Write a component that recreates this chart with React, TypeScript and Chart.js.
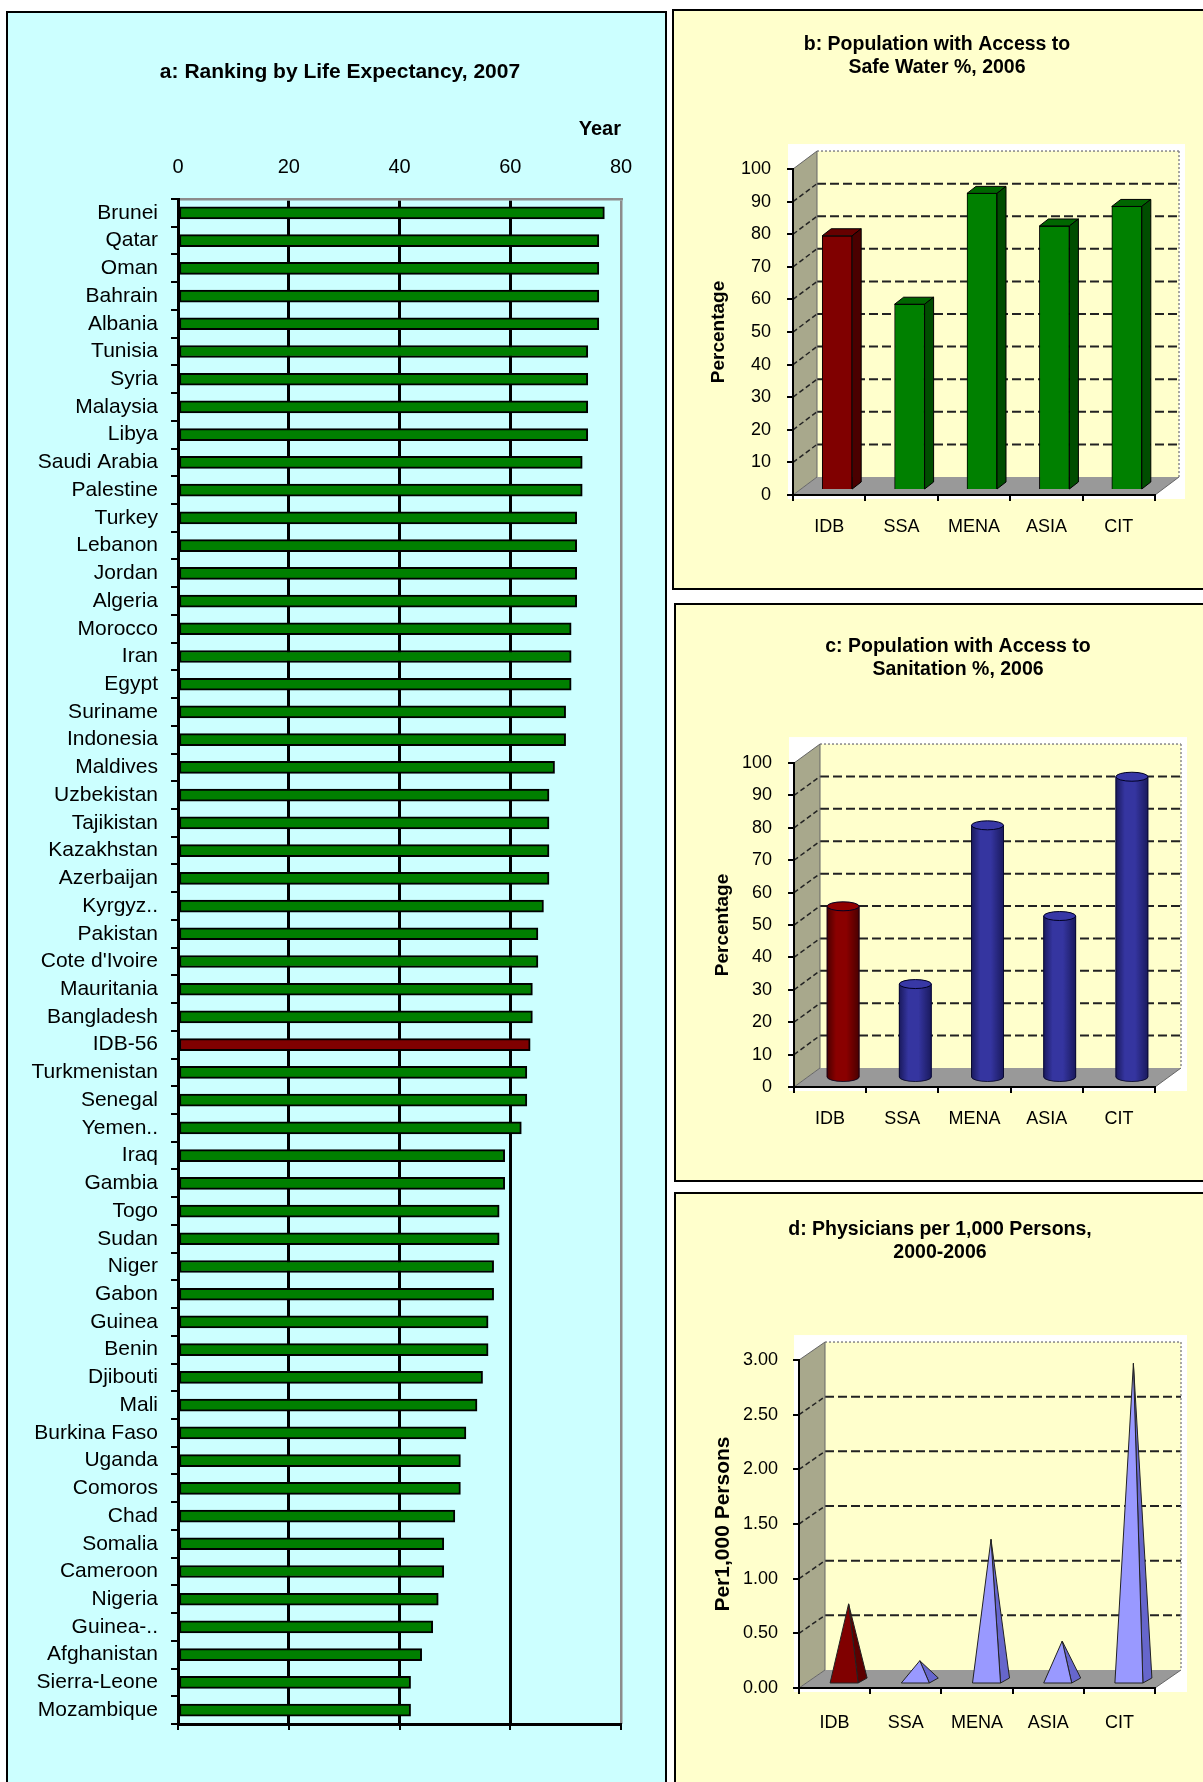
import React, { useEffect, useRef } from 'react';
import { Chart, registerables } from 'chart.js';

Chart.register(...registerables);

const FONT = "'Liberation Sans', Arial, Helvetica, sans-serif";
Chart.defaults.font.family = FONT;
Chart.defaults.color = '#000';

// ---------- Panel a: life expectancy ----------
const countries = [
  'Brunei', 'Qatar', 'Oman', 'Bahrain', 'Albania', 'Tunisia', 'Syria', 'Malaysia', 'Libya',
  'Saudi Arabia', 'Palestine', 'Turkey', 'Lebanon', 'Jordan', 'Algeria', 'Morocco', 'Iran',
  'Egypt', 'Suriname', 'Indonesia', 'Maldives', 'Uzbekistan', 'Tajikistan', 'Kazakhstan',
  'Azerbaijan', 'Kyrgyz..', 'Pakistan', "Cote d'Ivoire", 'Mauritania', 'Bangladesh', 'IDB-56',
  'Turkmenistan', 'Senegal', 'Yemen..', 'Iraq', 'Gambia', 'Togo', 'Sudan', 'Niger', 'Gabon',
  'Guinea', 'Benin', 'Djibouti', 'Mali', 'Burkina Faso', 'Uganda', 'Comoros', 'Chad', 'Somalia',
  'Cameroon', 'Nigeria', 'Guinea-..', 'Afghanistan', 'Sierra-Leone', 'Mozambique',
];
const lifeExpectancy = [
  77, 76, 76, 76, 76, 74, 74, 74, 74,
  73, 73, 72, 72, 72, 72, 71, 71,
  71, 70, 70, 68, 67, 67, 67,
  67, 66, 65, 65, 64, 64, 63.6,
  63, 63, 62, 59, 59, 58, 58, 57, 57,
  56, 56, 55, 54, 52, 51, 51, 50, 48,
  48, 47, 46, 44, 42, 42,
];
const lifeTicks = [0, 20, 40, 60, 80];

// ---------- Panels b, c, d ----------
const regions = ['IDB', 'SSA', 'MENA', 'ASIA', 'CIT'];
const safeWater = [78, 57, 91, 81, 87];
const sanitation = [53, 29, 78, 50, 93];
const physicians = [0.71, 0.19, 1.3, 0.37, 2.91];
const percentTicks = [0, 10, 20, 30, 40, 50, 60, 70, 80, 90, 100];
const physicianTicks = [0, 0.5, 1, 1.5, 2, 2.5, 3];

type Col = { front: string; side: string; top: string };
const RED_BOX: Col = { front: '#800000', side: '#4a0000', top: '#660000' };
const GREEN_BOX: Col = { front: '#008000', side: '#004d00', top: '#006600' };
const RED_CYL: Col = { front: '#8a0000', side: '#4a0000', top: '#900000' };
const BLUE_CYL: Col = { front: '#3535a0', side: '#1a1a5e', top: '#3838a6' };
const RED_PYR: Col = { front: '#800000', side: '#5c0000', top: '#800000' };
const LAV_PYR: Col = { front: '#9999FF', side: '#6666CC', top: '#9999FF' };

const poly = (ctx: CanvasRenderingContext2D, pts: number[][]) => {
  ctx.beginPath();
  ctx.moveTo(pts[0][0], pts[0][1]);
  for (let i = 1; i < pts.length; i++) ctx.lineTo(pts[i][0], pts[i][1]);
  ctx.closePath();
};
const seg = (ctx: CanvasRenderingContext2D, x1: number, y1: number, x2: number, y2: number) => {
  ctx.beginPath();
  ctx.moveTo(x1, y1);
  ctx.lineTo(x2, y2);
  ctx.stroke();
};
const cylGrad = (ctx: CanvasRenderingContext2D, cx: number, w: number, c: Col): any => {
  if (!isFinite(cx) || !isFinite(w)) return c.front;
  const g = ctx.createLinearGradient(cx - w / 2, 0, cx + w / 2, 0);
  g.addColorStop(0, c.side);
  g.addColorStop(0.28, c.front);
  g.addColorStop(0.6, c.front);
  g.addColorStop(1, c.side);
  return g;
};

// invisible right-hand axis used only to reserve space, so the title box stays wide
const spacerAxis = (w: number): any => ({
  type: 'linear',
  position: 'right',
  display: true,
  ticks: { display: false },
  grid: { display: false, drawTicks: false },
  border: { display: false },
  afterFit: (s: any) => {
    s.width = w;
  },
});

type P3 = {
  title: string[];
  yTitle: string;
  yTitleSize: number;
  yTitleOffset: number;
  data: number[];
  ticks: number[];
  fmt: (v: number) => string;
  kind: 'box' | 'cyl' | 'pyr';
  colors: Col[];
  barW: number;
  dx: number; dy: number; tx: number; ty: number; ddx: number; ddy: number;
  bottomPad: number;
  rightW: number;
  titlePad: { top: number; bottom: number };
  yWidth: number; yLabelPad: number; xHeight: number; xLabelPad: number;
};

function make3D(p: P3): any {
  const plugin = {
    id: 'walls3d',
    beforeDraw(chart: any) {
      const ctx: CanvasRenderingContext2D = chart.ctx;
      const { left: L, right: R, top: T, bottom: B } = chart.chartArea;
      const ys = chart.scales.y;
      const { dx, dy } = p;
      ctx.save();
      ctx.fillStyle = '#ffffff';
      ctx.fillRect(L - 5, T + dy - 7, R + dx + 6 - (L - 5), B + 4 - (T + dy - 7));
      ctx.fillStyle = '#FFFFCC';
      ctx.fillRect(L + dx, T + dy, R - L, B - T);
      ctx.fillStyle = '#A8A88C';
      poly(ctx, [[L, B], [L, T], [L + dx, T + dy], [L + dx, B + dy]]);
      ctx.fill();
      ctx.fillStyle = '#999999';
      poly(ctx, [[L, B], [R, B], [R + dx, B + dy], [L + dx, B + dy]]);
      ctx.fill();
      ys.ticks.forEach((t: any) => {
        const v = t.value;
        if (v <= ys.min || v >= ys.max) return;
        const y = ys.getPixelForValue(v);
        ctx.setLineDash([9, 4]);
        ctx.strokeStyle = '#222';
        ctx.lineWidth = 2;
        seg(ctx, L + dx, y + dy, R + dx, y + dy);
        ctx.setLineDash([5, 3]);
        ctx.lineWidth = 1.5;
        seg(ctx, L, y, L + dx, y + dy);
      });
      ctx.setLineDash([2, 2]);
      ctx.strokeStyle = '#888';
      ctx.lineWidth = 1.5;
      seg(ctx, L + dx, T + dy, R + dx, T + dy);
      seg(ctx, R + dx, T + dy, R + dx, B + dy);
      ctx.setLineDash([]);
      ctx.strokeStyle = '#666';
      ctx.lineWidth = 1;
      seg(ctx, L, T, L + dx, T + dy);
      seg(ctx, L + dx, T + dy, L + dx, B + dy);
      seg(ctx, R, B, R + dx, B + dy);
      seg(ctx, L, B, L + dx, B + dy);
      ctx.restore();
    },
    beforeDatasetsDraw(chart: any) {
      chart.ctx.save();
      chart.ctx.translate(p.tx, p.ty);
    },
    afterDatasetsDraw(chart: any) {
      const ctx: CanvasRenderingContext2D = chart.ctx;
      const meta = chart.getDatasetMeta(0);
      meta.data.forEach((el: any, i: number) => {
        const { x, y, base, width } = el.getProps(['x', 'y', 'base', 'width'], true);
        const c = p.colors[i];
        const x1 = x - width / 2;
        const x2 = x + width / 2;
        ctx.lineWidth = 1;
        ctx.setLineDash([]);
        if (p.kind === 'box') {
          ctx.strokeStyle = '#000';
          ctx.fillStyle = c.top;
          poly(ctx, [[x1, y], [x2, y], [x2 + p.ddx, y + p.ddy], [x1 + p.ddx, y + p.ddy]]);
          ctx.fill();
          ctx.stroke();
          ctx.fillStyle = c.side;
          poly(ctx, [[x2, y], [x2 + p.ddx, y + p.ddy], [x2 + p.ddx, base + p.ddy], [x2, base]]);
          ctx.fill();
          ctx.stroke();
        } else if (p.kind === 'cyl') {
          const rx = width / 2;
          const ry = 4.5;
          const grad = cylGrad(ctx, x, width, c);
          ctx.fillStyle = grad;
          ctx.fillRect(x1, y, width, base - y);
          ctx.beginPath();
          ctx.ellipse(x, base, rx, ry, 0, 0, Math.PI);
          ctx.closePath();
          ctx.fill();
          ctx.strokeStyle = 'rgba(0,0,30,0.8)';
          ctx.beginPath();
          ctx.ellipse(x, base, rx, ry, 0, 0, Math.PI);
          ctx.stroke();
          seg(ctx, x1, y, x1, base);
          seg(ctx, x2, y, x2, base);
          ctx.fillStyle = c.top;
          ctx.beginPath();
          ctx.ellipse(x, y, rx, ry, 0, 0, Math.PI * 2);
          ctx.fill();
          ctx.strokeStyle = '#000022';
          ctx.stroke();
        } else {
          const hw = width / 2;
          const fl = [x - hw - p.ddx / 2, base - p.ddy / 2];
          const fr = [x + hw - p.ddx / 2, base - p.ddy / 2];
          const br = [x + hw + p.ddx / 2, base + p.ddy / 2];
          const apex = [x, y];
          ctx.strokeStyle = '#222';
          ctx.fillStyle = c.side;
          poly(ctx, [fr, br, apex]);
          ctx.fill();
          ctx.stroke();
          ctx.fillStyle = c.front;
          poly(ctx, [fl, fr, apex]);
          ctx.fill();
          ctx.stroke();
        }
      });
      ctx.restore();
    },
  };

  const bg = p.kind === 'pyr' ? 'rgba(0,0,0,0)' : p.colors.map((c) => c.front);

  return {
    type: 'bar',
    data: {
      labels: regions,
      datasets: [
        {
          data: p.data,
          backgroundColor: bg,
          borderColor: '#000',
          borderWidth: p.kind === 'box' ? 1 : 0,
          barThickness: p.barW,
          clip: false,
        },
      ],
    },
    options: {
      animation: false,
      responsive: false,
      events: [],
      layout: { padding: { left: 0, right: 0, top: 0, bottom: p.bottomPad } },
      plugins: {
        legend: { display: false },
        tooltip: { enabled: false },
        title: {
          display: true,
          text: p.title,
          color: '#000',
          font: { size: 19.5, weight: 'bold', lineHeight: 1.15, family: FONT },
          padding: p.titlePad,
        },
      },
      scales: {
        x: {
          type: 'category',
          grid: { offset: true, drawOnChartArea: false, tickLength: 6, color: '#000', lineWidth: 2 },
          border: { color: '#000', width: 2 },
          ticks: { font: { size: 18, family: FONT }, color: '#000', padding: p.xLabelPad, maxRotation: 0 },
          afterFit: (s: any) => {
            s.height = p.xHeight;
          },
        },
        y: {
          type: 'linear',
          position: 'left',
          min: p.ticks[0],
          max: p.ticks[p.ticks.length - 1],
          afterBuildTicks: (s: any) => {
            s.ticks = p.ticks.map((v) => ({ value: v }));
          },
          ticks: {
            font: { size: 18, family: FONT },
            color: '#000',
            padding: p.yLabelPad,
            callback: (v: any) => p.fmt(Number(v)),
          },
          grid: { drawOnChartArea: false, tickLength: 6, color: '#000', lineWidth: 2 },
          border: { color: '#000', width: 2 },
          title: {
            display: true,
            text: p.yTitle,
            color: '#000',
            font: { size: p.yTitleSize, weight: 'bold', family: FONT },
            padding: { top: p.yTitleOffset, bottom: 0 },
          },
          afterFit: (s: any) => {
            s.width = p.yWidth;
          },
        },
        yR: spacerAxis(p.rightW),
      },
    },
    plugins: [plugin],
  };
}

function makeLife(): any {
  return {
    type: 'bar',
    data: {
      labels: countries,
      datasets: [
        {
          data: lifeExpectancy,
          backgroundColor: countries.map((c) => (c === 'IDB-56' ? '#800000' : '#007F00')),
          borderColor: '#000',
          borderWidth: 2,
          borderSkipped: false,
          barThickness: 12,
        },
      ],
    },
    options: {
      indexAxis: 'y',
      animation: false,
      responsive: false,
      events: [],
      layout: { padding: { left: 0, right: 0, top: 0, bottom: 52 } },
      plugins: {
        legend: { display: false },
        tooltip: { enabled: false },
        title: {
          display: true,
          text: 'a: Ranking by Life Expectancy, 2007',
          color: '#000',
          font: { size: 21, weight: 'bold', family: FONT },
          padding: { top: 46.4, bottom: 32.4 },
        },
      },
      scales: {
        x: {
          type: 'linear',
          position: 'top',
          min: lifeTicks[0],
          max: lifeTicks[lifeTicks.length - 1],
          afterBuildTicks: (s: any) => {
            s.ticks = lifeTicks.map((v) => ({ value: v }));
          },
          ticks: { font: { size: 20, family: FONT }, color: '#000', padding: 20 },
          grid: {
            drawTicks: false,
            color: (c: any) => (c.tick && c.tick.value === 80 ? '#8c8c8c' : '#000'),
            lineWidth: (c: any) => (c.tick && c.tick.value === 80 ? 2.5 : 3),
          },
          border: { display: true, color: '#8c8c8c', width: 2.5 },
          title: {
            display: true,
            text: 'Year',
            align: 'end',
            color: '#000',
            font: { size: 20, weight: 'bold', family: FONT },
            padding: { top: 0, bottom: 14 },
          },
          afterFit: (s: any) => {
            s.height = 82;
          },
        },
        x2: {
          type: 'linear',
          position: 'bottom',
          min: lifeTicks[0],
          max: lifeTicks[lifeTicks.length - 1],
          afterBuildTicks: (s: any) => {
            s.ticks = lifeTicks.map((v) => ({ value: v }));
          },
          ticks: { display: false },
          grid: { drawOnChartArea: false, drawTicks: true, tickLength: 6, color: '#000', lineWidth: 2 },
          border: { color: '#000', width: 3 },
          afterFit: (s: any) => {
            s.height = 6;
          },
        },
        y: {
          type: 'category',
          position: 'left',
          offset: true,
          ticks: { font: { size: 21, family: FONT }, color: '#000', padding: 13, autoSkip: false },
          grid: { offset: true, drawOnChartArea: false, tickLength: 7, color: '#000', lineWidth: 2 },
          border: { color: '#000', width: 3 },
          afterFit: (s: any) => {
            s.width = 170;
          },
        },
        yR: spacerAxis(51),
      },
    },
  };
}

const chartB = (): any =>
  make3D({
    title: ['b: Population with Access to', 'Safe Water %, 2006'],
    yTitle: 'Percentage',
    yTitleSize: 19,
    yTitleOffset: 32.6,
    data: safeWater,
    ticks: percentTicks,
    fmt: (v) => String(v),
    kind: 'box',
    colors: [RED_BOX, GREEN_BOX, GREEN_BOX, GREEN_BOX, GREEN_BOX],
    barW: 30,
    dx: 24, dy: -18, tx: 8, ty: -5, ddx: 9, ddy: -7,
    bottomPad: 53,
    rightW: 44,
    titlePad: { top: 21.8, bottom: 90.4 },
    yWidth: 118, yLabelPad: 16, xHeight: 40, xLabelPad: 15,
  });

const chartC = (): any =>
  make3D({
    title: ['c: Population with Access to', 'Sanitation %, 2006'],
    yTitle: 'Percentage',
    yTitleSize: 19,
    yTitleOffset: 34.6,
    data: sanitation,
    ticks: percentTicks,
    fmt: (v) => String(v),
    kind: 'cyl',
    colors: [RED_CYL, BLUE_CYL, BLUE_CYL, BLUE_CYL, BLUE_CYL],
    barW: 32,
    dx: 26, dy: -19, tx: 13, ty: -9, ddx: 0, ddy: 0,
    bottomPad: 53,
    rightW: 84,
    titlePad: { top: 29.8, bottom: 82.4 },
    yWidth: 117, yLabelPad: 16, xHeight: 40, xLabelPad: 15,
  });

const chartD = (): any =>
  make3D({
    title: ['d: Physicians per 1,000 Persons,', '2000-2006'],
    yTitle: 'Per1,000 Persons',
    yTitleSize: 21,
    yTitleOffset: 33.4,
    data: physicians,
    ticks: physicianTicks,
    fmt: (v) => v.toFixed(2),
    kind: 'pyr',
    colors: [RED_PYR, LAV_PYR, LAV_PYR, LAV_PYR, LAV_PYR],
    barW: 28,
    dx: 26, dy: -18, tx: 14, ty: -6.5, ddx: 9, ddy: -5,
    bottomPad: 49,
    rightW: 48,
    titlePad: { top: 23.8, bottom: 96.4 },
    yWidth: 122, yLabelPad: 15, xHeight: 45, xLabelPad: 18,
  });

function ChartCanvas(props: { make: () => any; left: number; top: number; width: number; height: number }) {
  const ref = useRef<HTMLCanvasElement>(null);
  useEffect(() => {
    let chart: any = null;
    try {
      chart = new Chart(ref.current as HTMLCanvasElement, props.make());
    } catch (e) {
      console.error(e);
    }
    return () => {
      if (chart) chart.destroy();
    };
  }, []);
  return (
    <canvas
      ref={ref}
      width={props.width}
      height={props.height}
      style={{ position: 'absolute', left: props.left, top: props.top, width: props.width, height: props.height }}
    />
  );
}

export default function App() {
  const panel = (left: number, top: number, width: number, height: number, bg: string): React.CSSProperties => ({
    position: 'absolute',
    left,
    top,
    width,
    height,
    border: '2px solid #000',
    background: bg,
  });
  return (
    <div
      style={{
        position: 'absolute',
        left: 0,
        top: 0,
        width: 1203,
        height: 1782,
        overflow: 'hidden',
        background: '#fff',
        fontFamily: FONT,
      }}
    >
      <div style={panel(6, 11, 657, 1800, '#CCFFFF')} />
      <div style={panel(672, 9, 600, 577, '#FFFFCC')} />
      <div style={panel(674, 603, 600, 575, '#FFFFCC')} />
      <div style={panel(674, 1192, 600, 620, '#FFFFCC')} />
      <ChartCanvas make={makeLife} left={8} top={13} width={664} height={1769} />
      <ChartCanvas make={chartB} left={675} top={12} width={524} height={576} />
      <ChartCanvas make={chartC} left={677} top={606} width={562} height={574} />
      <ChartCanvas make={chartD} left={677} top={1195} width={526} height={587} />
    </div>
  );
}
